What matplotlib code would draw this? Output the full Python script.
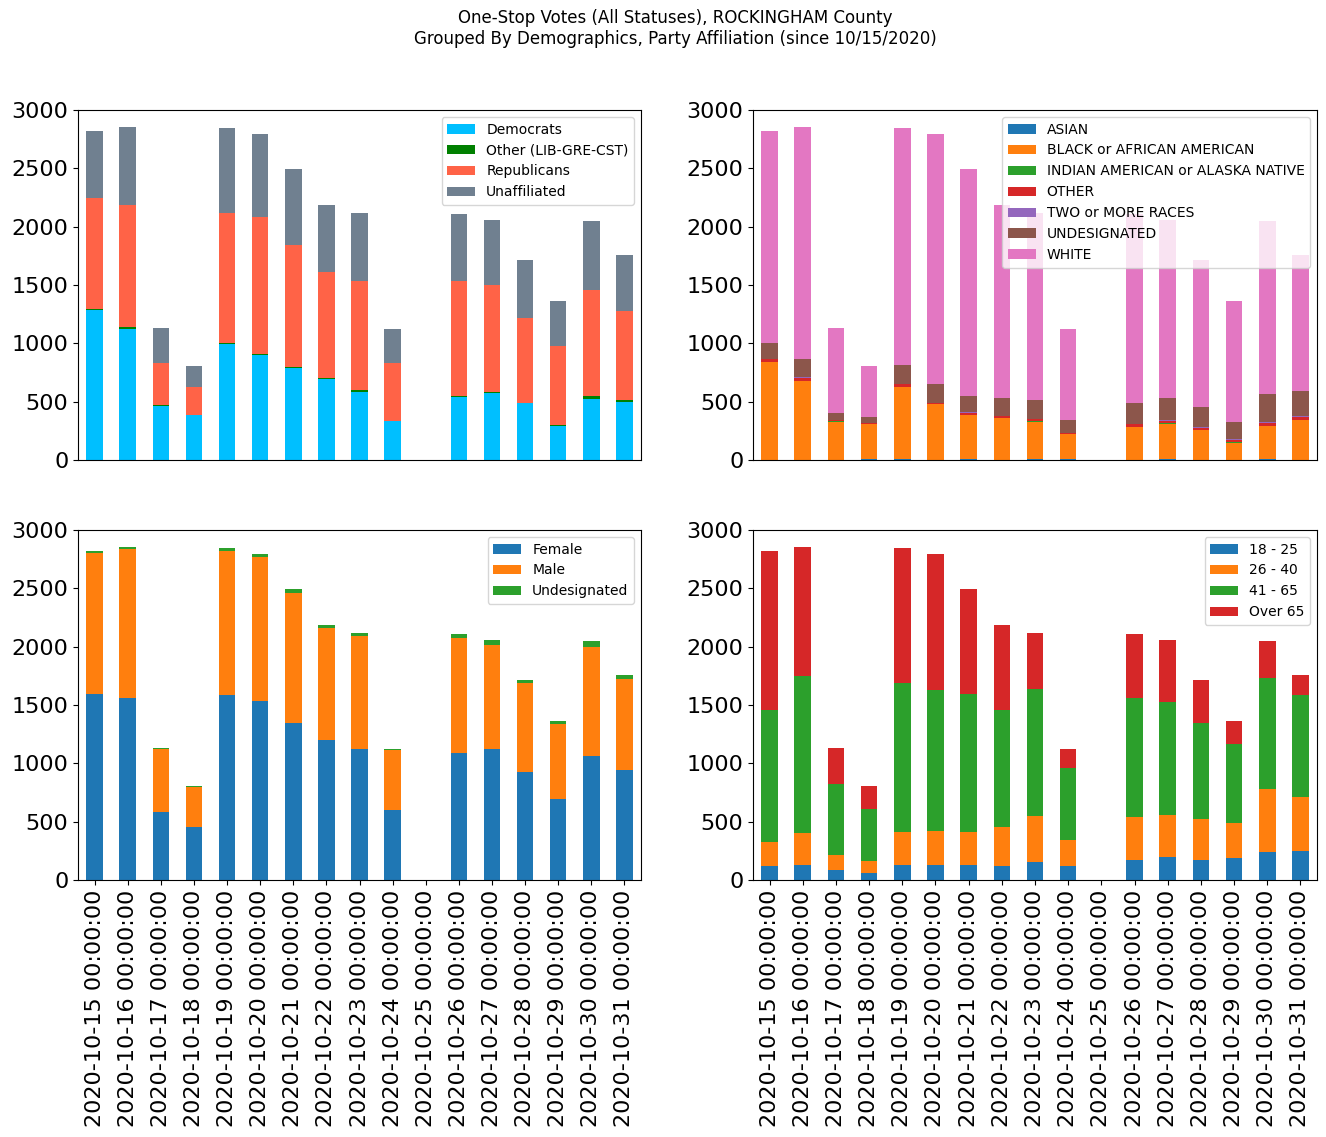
import numpy as np
import pandas as pd
import matplotlib
matplotlib.use("Agg")
import matplotlib.pyplot as plt

# ─── Data ───
dates = pd.date_range("2020-10-15", "2020-10-31", freq="D")

# party affiliation
democrats    = [1288, 1123, 466, 386, 994, 900, 791, 694, 583, 334, 0, 543, 574, 489, 294, 523, 497]
other_party  = [5, 17, 8, 2, 9, 9, 6, 9, 17, 2, 0, 8, 9, 3, 9, 26, 17]
republicans  = [956, 1046, 357, 238, 1114, 1174, 1046, 908, 934, 495, 0, 983, 917, 725, 674, 908, 763]
unaffiliated = [571, 668, 300, 180, 729, 711, 651, 575, 583, 292, 0, 574, 557, 497, 386, 592, 480]

# race
asian      = [2, 2, 2, 8, 8, 2, 8, 2, 8, 8, 0, 2, 8, 2, 2, 8, 2]
black      = [838, 675, 324, 301, 618, 478, 378, 358, 318, 215, 0, 281, 301, 255, 144, 283, 341]
indian     = [2, 2, 8, 2, 2, 2, 2, 2, 8, 2, 0, 2, 8, 2, 8, 2, 2]
other_race = [21, 27, 9, 6, 23, 7, 15, 15, 17, 6, 0, 24, 17, 15, 17, 24, 24]
two_more   = [6, 8, 2, 2, 3, 2, 8, 2, 2, 2, 0, 2, 9, 9, 9, 9, 8]
undesig_r  = [134, 152, 58, 50, 160, 160, 138, 152, 161, 110, 0, 178, 188, 171, 146, 240, 214]
white      = [1817, 1988, 728, 437, 2032, 2143, 1945, 1655, 1603, 780, 0, 1619, 1526, 1260, 1037, 1483, 1166]

# gender
female    = [1594, 1560, 583, 454, 1586, 1534, 1346, 1200, 1123, 600, 0, 1089, 1123, 926, 694, 1063, 943]
male      = [1209, 1277, 540, 343, 1234, 1235, 1114, 960, 968, 514, 0, 985, 891, 763, 643, 934, 780]
undesig_g = [17, 17, 8, 9, 26, 25, 34, 26, 26, 9, 0, 34, 43, 25, 26, 52, 34]

# age
age_18_25 = [120, 129, 86, 60, 129, 129, 129, 120, 154, 120, 0, 171, 197, 171, 189, 240, 249]
age_26_40 = [206, 274, 128, 103, 282, 291, 282, 334, 395, 223, 0, 369, 360, 352, 300, 540, 462]
age_41_65 = [1131, 1346, 609, 446, 1278, 1209, 1183, 1003, 1088, 617, 0, 1020, 969, 823, 677, 951, 875]
age_65up  = [1363, 1105, 308, 197, 1157, 1165, 900, 729, 480, 163, 0, 548, 531, 368, 197, 318, 171]

df_party = pd.DataFrame({
    "Democrats": democrats,
    "Other (LIB-GRE-CST)": other_party,
    "Republicans": republicans,
    "Unaffiliated": unaffiliated,
}, index=dates)

df_race = pd.DataFrame({
    "ASIAN": asian,
    "BLACK or AFRICAN AMERICAN": black,
    "INDIAN AMERICAN or ALASKA NATIVE": indian,
    "OTHER": other_race,
    "TWO or MORE RACES": two_more,
    "UNDESIGNATED": undesig_r,
    "WHITE": white,
}, index=dates)

df_gender = pd.DataFrame({
    "Female": female,
    "Male": male,
    "Undesignated": undesig_g,
}, index=dates)

df_age = pd.DataFrame({
    "18 - 25": age_18_25,
    "26 - 40": age_26_40,
    "41 - 65": age_41_65,
    "Over 65": age_65up,
}, index=dates)

# ─── Figure ───
fig = plt.figure(figsize=(13.26, 11.37), dpi=100)
W, H = 1326.0, 1137.0

def make_ax(x0, x1, y0, y1):
    return fig.add_axes([x0 / W, 1 - y1 / H, (x1 - x0) / W, (y1 - y0) / H])

ax_tl = make_ax(78, 641, 110, 460)
ax_tr = make_ax(753, 1317, 110, 460)
ax_bl = make_ax(78, 641, 530, 880)
ax_br = make_ax(753, 1317, 530, 880)

party_colors = ["deepskyblue", "green", "tomato", "slategray"]

df_party.plot(kind="bar", stacked=True, ax=ax_tl, color=party_colors, fontsize=16)
df_race.plot(kind="bar", stacked=True, ax=ax_tr, fontsize=16)
df_gender.plot(kind="bar", stacked=True, ax=ax_bl, fontsize=16)
df_age.plot(kind="bar", stacked=True, ax=ax_br, fontsize=16)

for ax in (ax_tl, ax_tr, ax_bl, ax_br):
    ax.set_ylim(0, 3000)
    ax.set_yticks(np.arange(0, 3001, 500))
    ax.set_xlabel("")
    ax.legend(loc="upper right", fontsize=10)

for ax in (ax_tl, ax_tr):
    ax.tick_params(axis="x", bottom=False, labelbottom=False)

for ax in (ax_bl, ax_br):
    ax.set_xticklabels([str(d) for d in dates], rotation=90)

fig.suptitle("One-Stop Votes (All Statuses), ROCKINGHAM County\n"
             "Grouped By Demographics, Party Affiliation (since 10/15/2020)",
             fontsize=12, x=0.509, y=0.992)

plt.savefig("out.png", dpi=100, facecolor="white")
plt.close()
